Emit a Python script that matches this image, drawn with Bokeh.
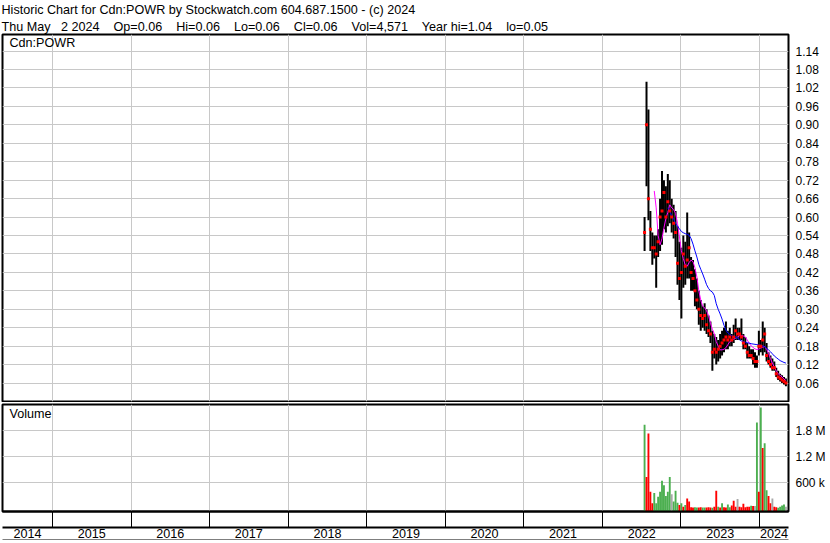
import pandas as pd
from bokeh.plotting import figure
from bokeh.models import (Range1d, FixedTicker, LinearAxis, Label, Title,
                          ColumnDataSource, NumeralTickFormatter)
from bokeh.layouts import column
from bokeh.embed import file_html
from bokeh.resources import INLINE

FONT = "Liberation Sans"
NB = "\u00a0"

# ---------------- data ----------------
header_line1 = "Historic Chart for Cdn:POWR by Stockwatch.com 604.687.1500 - (c) 2024"
header_line2 = (f"Thu May{NB}{NB} 2 2024{NB}{NB}{NB} Op=0.06{NB}{NB}{NB} Hi=0.06{NB}{NB}{NB} "
                f"Lo=0.06{NB}{NB}{NB} Cl=0.06{NB}{NB}{NB} Vol=4,571{NB}{NB}{NB} Year hi=1.04{NB}{NB}{NB} lo=0.05")
symbol = "Cdn:POWR"

year_names = ["2014", "2015", "2016", "2017", "2018", "2019", "2020", "2021", "2022", "2023", "2024"]
year_bounds = [2015, 2016, 2017, 2018, 2019, 2020, 2021, 2022, 2023, 2024]
x_start, x_end = 2014.364, 2024.369

price_ticks = [0.06, 0.12, 0.18, 0.24, 0.30, 0.36, 0.42, 0.48, 0.54, 0.60,
               0.66, 0.72, 0.78, 0.84, 0.90, 0.96, 1.02, 1.08, 1.14]
vol_ticks = [600000, 1200000, 1800000]
vol_tick_labels = ["600 k", "1.2 M", "1.8 M"]

bar_dates = pd.date_range("2022-07-16", periods=74, freq="9D")

high = [0.60, 1.04, 0.95, 0.62, 0.55, 0.54, 0.54, 0.56, 0.66, 0.75,
        0.72, 0.70, 0.74, 0.72, 0.66, 0.64, 0.62, 0.57, 0.52, 0.50,
        0.54, 0.52, 0.615, 0.55, 0.47, 0.46, 0.43, 0.40, 0.36, 0.33,
        0.31, 0.32, 0.30, 0.28, 0.26, 0.23, 0.22, 0.21, 0.20, 0.22,
        0.23, 0.24, 0.26, 0.23, 0.24, 0.22, 0.25, 0.27, 0.24, 0.24,
        0.27, 0.22, 0.21, 0.19, 0.18, 0.17, 0.17, 0.16, 0.15, 0.23,
        0.20, 0.26, 0.24, 0.19, 0.16, 0.15, 0.14, 0.13, 0.11, 0.10,
        0.09, 0.085, 0.08, 0.075]
low = [0.49, 0.70, 0.59, 0.49, 0.445, 0.465, 0.37, 0.47, 0.49, 0.51,
       0.56, 0.55, 0.57, 0.58, 0.55, 0.53, 0.47, 0.38, 0.33, 0.27,
       0.37, 0.38, 0.40, 0.40, 0.36, 0.36, 0.31, 0.30, 0.25, 0.23,
       0.24, 0.23, 0.22, 0.21, 0.19, 0.10, 0.14, 0.12, 0.13, 0.14,
       0.15, 0.16, 0.17, 0.17, 0.18, 0.18, 0.19, 0.20, 0.20, 0.20,
       0.20, 0.17, 0.17, 0.14, 0.14, 0.14, 0.12, 0.11, 0.11, 0.15,
       0.16, 0.15, 0.16, 0.13, 0.12, 0.11, 0.10, 0.10, 0.08, 0.07,
       0.065, 0.06, 0.055, 0.05]
close = [0.55, 0.90, 0.66, 0.56, 0.50, 0.50, 0.48, 0.52, 0.60, 0.62,
         0.68, 0.60, 0.65, 0.62, 0.60, 0.58, 0.55, 0.45, 0.40, 0.42,
         0.48, 0.44, 0.46, 0.50, 0.42, 0.40, 0.36, 0.33, 0.30, 0.28,
         0.27, 0.28, 0.25, 0.23, 0.22, 0.16, 0.17, 0.16, 0.17, 0.18,
         0.19, 0.20, 0.21, 0.20, 0.21, 0.20, 0.21, 0.23, 0.22, 0.22,
         0.21, 0.19, 0.18, 0.16, 0.15, 0.15, 0.14, 0.13, 0.13, 0.18,
         0.18, 0.20, 0.22, 0.15, 0.13, 0.12, 0.11, 0.11, 0.09, 0.08,
         0.075, 0.07, 0.065, 0.06]

# short moving average (magenta) starts at bar 5, long (blue) at bar 12
ma_short_start = 5
ma_short = [0.685, 0.63, 0.54, 0.51, 0.53, 0.565, 0.595, 0.615, 0.64, 0.63,
            0.625, 0.612, 0.58, 0.535, 0.49, 0.465, 0.444, 0.44, 0.452, 0.46,
            0.455, 0.435, 0.405, 0.36, 0.33, 0.31, 0.305, 0.295, 0.28, 0.255,
            0.235, 0.22, 0.195, 0.18, 0.168, 0.168, 0.17, 0.175, 0.185, 0.195,
            0.198, 0.203, 0.206, 0.21, 0.214, 0.215, 0.213, 0.21, 0.20, 0.19,
            0.181, 0.176, 0.171, 0.169, 0.171, 0.174, 0.177, 0.179, 0.17, 0.157,
            0.14, 0.125, 0.112, 0.10, 0.09, 0.085, 0.08, 0.073, 0.068]
ma_long_start = 12
ma_long = [0.63, 0.62, 0.605, 0.593, 0.58, 0.57, 0.562, 0.553, 0.549, 0.546,
           0.544, 0.541, 0.53, 0.512, 0.49, 0.47, 0.446, 0.43, 0.415, 0.398,
           0.38, 0.368, 0.36, 0.356, 0.345, 0.318, 0.30, 0.285, 0.268, 0.248,
           0.232, 0.223, 0.218, 0.214, 0.212, 0.21, 0.206, 0.201, 0.197, 0.195,
           0.193, 0.191, 0.19, 0.188, 0.187, 0.186, 0.185, 0.184, 0.183, 0.181,
           0.178, 0.173, 0.168, 0.162, 0.155, 0.148, 0.143, 0.138, 0.133, 0.13,
           0.127, 0.125]

volume = [1940000, 730000, 1740000, 390000, 120000, 360000, 120000, 270000, 390000, 640000,
          540000, 290000, 390000, 730000, 330000, 160000, 410000, 130000, 80000, 120000,
          40000, 80000, 230000, 160000, 30000, 20000, 30000, 20000, 20000, 30000,
          20000, 25000, 20000, 30000, 20000, 15000, 40000, 410000, 40000, 20000,
          120000, 30000, 20000, 95000, 30000, 70000, 180000, 40000, 220000, 40000,
          30000, 110000, 30000, 40000, 40000, 65000, 60000, 55000, 1990000, 390000,
          2340000, 1400000, 1510000, 420000, 290000, 120000, 230000, 40000, 30000, 15000,
          40000, 70000, 95000, 40000]
vol_dir = ["g", "r", "r", "r", "r", "g", "g", "g", "g", "g",
           "g", "g", "g", "g", "n", "g", "g", "g", "r", "g",
           "r", "g", "r", "r", "r", "r", "g", "g", "r", "r",
           "g", "g", "r", "r", "r", "g", "r", "r", "g", "r",
           "g", "r", "r", "g", "g", "r", "r", "r", "n", "r",
           "r", "r", "r", "r", "r", "g", "r", "n", "g", "r",
           "g", "r", "g", "g", "r", "r", "n", "r", "r", "g",
           "g", "g", "g", "n"]

# ---------------- styling ----------------
GRID = "#c8c8c8"
DIR_COLORS = {"g": "#4caf50", "r": "#ff0000", "n": "#a8a8a8"}
FRAME_W = 786
PRICE_H = 367
VOL_H = 107
RIGHT_W = 42
PRICE_RANGE = (0.0, 1.194)
VOL_RANGE = (-70000, 2410000)


def frac_year(d):
    days = 366 if d.is_leap_year else 365
    return d.year + (d.dayofyear - 1) / days


xs = [frac_year(d) for d in bar_dates]

src = ColumnDataSource(dict(
    x=xs, high=high, low=low, close=close, vol=volume,
    color=[DIR_COLORS[c] for c in vol_dir]))


def style_right_axis(ax):
    ax.axis_line_color = None
    ax.major_tick_line_color = None
    ax.minor_tick_line_color = None
    ax.major_tick_out = 0
    ax.major_tick_in = 0
    ax.minor_tick_out = 0
    ax.minor_tick_in = 0
    ax.major_label_standoff = 7
    ax.major_label_text_font = FONT
    ax.major_label_text_font_size = "12px"
    ax.major_label_text_color = "black"


# ---------------- price panel ----------------
pA = figure(frame_width=FRAME_W, frame_height=PRICE_H,
            x_range=Range1d(x_start, x_end), y_range=Range1d(*PRICE_RANGE),
            x_axis_location=None, y_axis_location="right",
            toolbar_location=None, output_backend="svg", title=None,
            min_border_left=2, min_border_right=RIGHT_W,
            min_border_top=0, min_border_bottom=1,
            background_fill_color="white", border_fill_color="white",
            outline_line_color="black", outline_line_width=2)

pA.add_layout(Title(text=header_line2, align="left", text_font=FONT,
                    text_font_size="12.6px", text_font_style="normal",
                    text_color="black", standoff=1, offset=-1), "above")
pA.add_layout(Title(text=header_line1, align="left", text_font=FONT,
                    text_font_size="12.6px", text_font_style="normal",
                    text_color="black", standoff=1, offset=-1), "above")

pA.xgrid.ticker = FixedTicker(ticks=year_bounds)
pA.ygrid.ticker = FixedTicker(ticks=price_ticks)
for g in (pA.xgrid, pA.ygrid):
    g.grid_line_color = GRID
    g.grid_line_width = 1

ya = pA.yaxis[0]
ya.ticker = FixedTicker(ticks=price_ticks)
ya.formatter = NumeralTickFormatter(format="0.00")
style_right_axis(ya)

pA.segment(x0="x", y0="low", x1="x", y1="high", source=src,
           line_color="black", line_width=2)
pA.line(xs[ma_short_start:], ma_short, line_color="#ff00ff", line_width=1)
pA.line(xs[ma_long_start:], ma_long, line_color="#0000ff", line_width=1)
pA.scatter(x="x", y="close", source=src, marker="square", size=3,
           fill_color="#ff0000", line_color=None)

pA.add_layout(Label(x=x_start, y=PRICE_RANGE[1], x_offset=7, y_offset=-1,
                    text=symbol, text_baseline="top", text_font=FONT,
                    text_font_size="12.6px", text_color="black"))

# ---------------- volume panel ----------------
pB = figure(frame_width=FRAME_W, frame_height=VOL_H,
            x_range=pA.x_range, y_range=Range1d(*VOL_RANGE),
            x_axis_location=None, y_axis_location="right",
            toolbar_location=None, output_backend="svg", title=None,
            min_border_left=2, min_border_right=RIGHT_W,
            min_border_top=2, min_border_bottom=1,
            background_fill_color="white", border_fill_color="white",
            outline_line_color="black", outline_line_width=2)

pB.xgrid.ticker = FixedTicker(ticks=year_bounds)
pB.ygrid.ticker = FixedTicker(ticks=vol_ticks)
for g in (pB.xgrid, pB.ygrid):
    g.grid_line_color = GRID
    g.grid_line_width = 1

yb = pB.yaxis[0]
yb.ticker = FixedTicker(ticks=vol_ticks)
yb.major_label_overrides = {t: s for t, s in zip(vol_ticks, vol_tick_labels)}
style_right_axis(yb)

pB.vbar(x="x", top="vol", bottom=VOL_RANGE[0], width=0.024, source=src,
        fill_color="color", line_color=None)

pB.add_layout(Label(x=x_start, y=VOL_RANGE[1], x_offset=7, y_offset=-2,
                    text="Volume", text_baseline="top", text_font=FONT,
                    text_font_size="12.6px", text_color="black"))

# year separator row
ax1 = LinearAxis(ticker=FixedTicker(ticks=year_bounds))
ax1.major_label_overrides = {t: "" for t in year_bounds}
ax1.major_label_text_font_size = "0px"
ax1.major_label_standoff = 0
ax1.major_tick_in = 0
ax1.major_tick_out = 16
ax1.major_tick_line_color = "black"
ax1.major_tick_line_width = 1
ax1.minor_tick_line_color = None
ax1.axis_line_color = "black"
ax1.axis_line_width = 2
pB.add_layout(ax1, "below")

# year label row
centers = [(x_start + year_bounds[0]) / 2] + [b + 0.5 for b in year_bounds[:-1]] + \
          [(year_bounds[-1] + x_end) / 2]
ax2 = LinearAxis(ticker=FixedTicker(ticks=centers))
ax2.major_label_overrides = {c: n for c, n in zip(centers, year_names)}
ax2.major_label_standoff = 1
ax2.major_tick_in = 0
ax2.major_tick_out = 0
ax2.major_tick_line_color = None
ax2.minor_tick_line_color = None
ax2.axis_line_color = "black"
ax2.axis_line_width = 2
ax2.major_label_text_font = FONT
ax2.major_label_text_font_size = "12.6px"
ax2.major_label_text_color = "black"
pB.add_layout(ax2, "below")

# closing bottom line
ax3 = LinearAxis(ticker=FixedTicker(ticks=[]))
ax3.major_tick_line_color = None
ax3.minor_tick_line_color = None
ax3.major_label_text_font_size = "0px"
ax3.axis_line_color = "black"
ax3.axis_line_width = 2
pB.add_layout(ax3, "below")

layout = column(pA, pB)
open("out.html", "w").write(file_html(layout, INLINE))
